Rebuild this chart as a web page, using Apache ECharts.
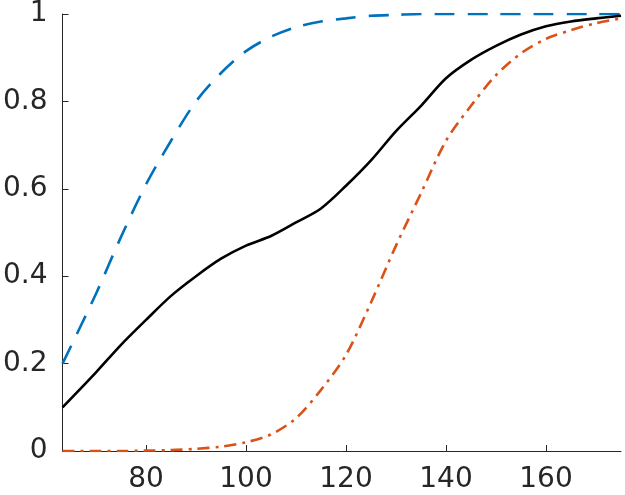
<!DOCTYPE html>
<html>
<head>
<meta charset="utf-8">
<script src="https://cdn.jsdelivr.net/npm/echarts@6/dist/echarts.min.js"></script>
<style>
  html, body { margin: 0; padding: 0; background: #fff; }
  #main { width: 625px; height: 495px; }
</style>
</head>
<body>
<div id="main"></div>
<script>
// values
var xs = [63.3, 70, 75, 80, 85, 90, 95, 100, 105, 110, 115, 120, 125, 130, 135, 140, 145, 150, 155, 160, 165, 170, 175];
var blueVals = [0.20, 0.36, 0.49, 0.61, 0.71, 0.80, 0.865, 0.915, 0.948, 0.97, 0.983, 0.99, 0.996, 0.998, 1, 1, 1, 1, 1, 1, 1, 1, 1];
var blackVals = [0.10, 0.18, 0.243, 0.30, 0.355, 0.40, 0.44, 0.47, 0.492, 0.523, 0.555, 0.607, 0.665, 0.732, 0.79, 0.853, 0.895, 0.927, 0.953, 0.972, 0.983, 0.99, 0.996];
var redVals = [0, 0, 0, 0.001, 0.002, 0.005, 0.01, 0.02, 0.038, 0.075, 0.14, 0.22, 0.34, 0.47, 0.59, 0.71, 0.79, 0.86, 0.91, 0.943, 0.963, 0.979, 0.99];
var xTicks = [80, 100, 120, 140, 160];

function pairs(vals) {
    var out = [];
    for (var i = 0; i < xs.length; i++) {
        out.push([xs[i], vals[i]]);
    }
    return out;
}

var myChart = echarts.init(document.getElementById('main'));
var axisColor = '#262626';
var labelFont = { fontFamily: 'DejaVu Sans', fontSize: 28, color: '#262626' };

var option = {
    animation: false,
    grid: { left: 61, right: 4, top: 12, bottom: 44, containLabel: false },
    xAxis: {
        type: 'value',
        min: 63.3,
        max: 175,
        axisLine: { show: true, lineStyle: { color: axisColor, width: 1 } },
        axisTick: { show: true, inside: true, length: 6, customValues: xTicks, lineStyle: { color: axisColor } },
        axisLabel: Object.assign({ margin: 15, customValues: xTicks }, labelFont),
        splitLine: { show: false }
    },
    yAxis: {
        type: 'value',
        min: 0,
        max: 1,
        interval: 0.2,
        axisLine: { show: true, lineStyle: { color: axisColor, width: 1 } },
        axisTick: { show: true, inside: true, length: 6, lineStyle: { color: axisColor } },
        axisLabel: Object.assign({ margin: 15 }, labelFont),
        splitLine: { show: false }
    },
    series: [
        {
            name: 'blue',
            type: 'line',
            symbol: 'none',
            smooth: 0.3,
            data: pairs(blueVals),
            lineStyle: { color: '#0072BD', width: 2.6, type: [20, 13] }
        },
        {
            name: 'black',
            type: 'line',
            symbol: 'none',
            smooth: 0.3,
            data: pairs(blackVals),
            lineStyle: { color: '#000000', width: 2.6, type: 'solid' }
        },
        {
            name: 'red',
            type: 'line',
            symbol: 'none',
            smooth: 0.3,
            data: pairs(redVals),
            lineStyle: { color: '#D95319', width: 2.6, type: [12, 6, 3, 6] }
        }
    ]
};

myChart.setOption(option);

window.onresize = function () {
    myChart.resize();
};
</script>
</body>
</html>
